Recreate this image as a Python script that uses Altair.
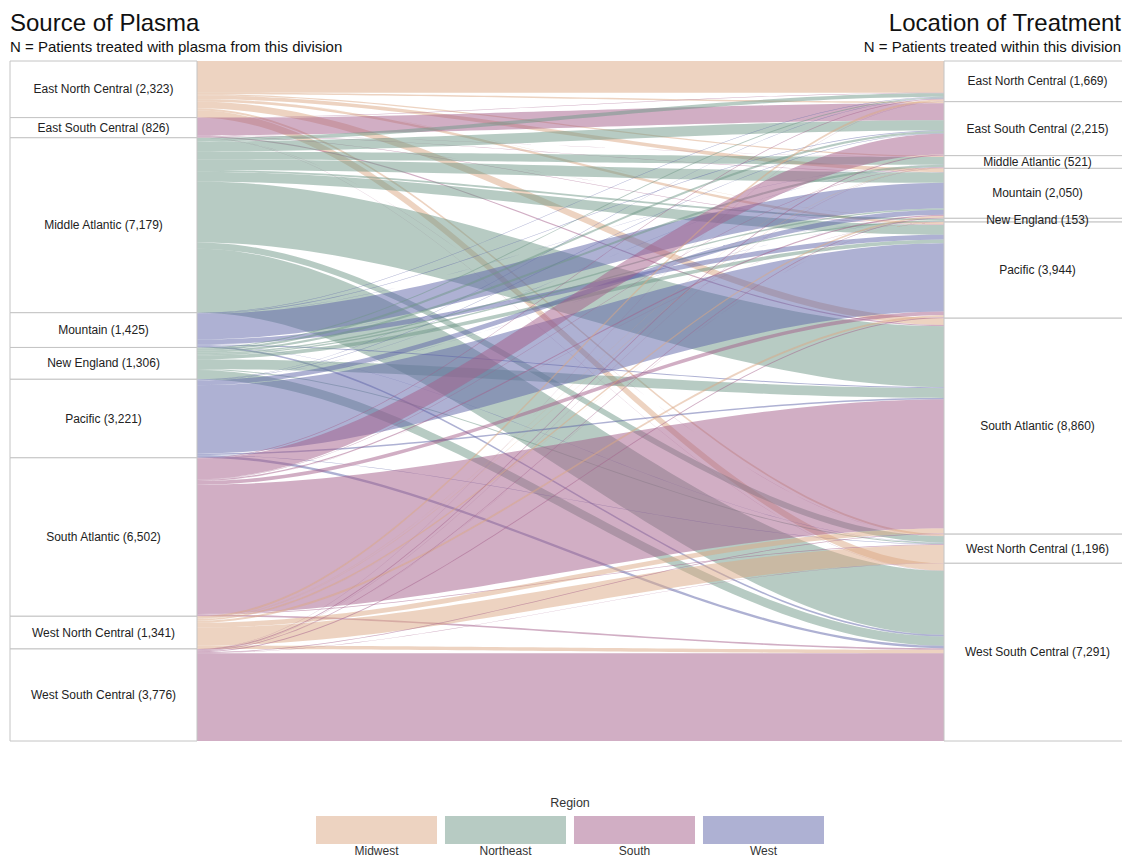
import numpy as np
import pandas as pd
import altair as alt

# ---------------- data ----------------
divisions = ["East North Central", "East South Central", "Middle Atlantic", "Mountain",
             "New England", "Pacific", "South Atlantic", "West North Central", "West South Central"]
division_region = ["Midwest", "South", "Northeast", "West", "Northeast", "West",
                   "South", "Midwest", "South"]
source_totals = [2323, 826, 7179, 1425, 1306, 3221, 6502, 1341, 3776]
treated_totals = [1669, 2215, 521, 2050, 153, 3944, 8860, 1196, 7291]

# patients by source of plasma (rows) and location of treatment (columns, same order)
flow_enc = [1300, 60, 50, 150, 5, 100, 280, 80, 298]
flow_esc = [20, 700, 5, 15, 1, 20, 50, 5, 10]
flow_ma = [150, 420, 320, 430, 75, 400, 2500, 260, 2624]
flow_mtn = [20, 25, 5, 1050, 2, 200, 40, 13, 70]
flow_ne = [40, 90, 90, 60, 55, 150, 400, 40, 381]
flow_pac = [15, 20, 5, 200, 3, 2800, 60, 18, 100]
flow_sa = [30, 850, 20, 50, 5, 150, 5300, 30, 67]
flow_wnc = [84, 10, 16, 65, 4, 84, 200, 737, 141]
flow_wsc = [10, 40, 10, 30, 3, 40, 30, 13, 3600]

regions = ["Midwest", "Northeast", "South", "West"]
region_colors = ["#DBA783", "#6F9787", "#A35D89", "#5D63A7"]

# ---------------- layout ----------------
FONT = "Liberation Sans"
FULL = 1121               # full drawing width in px (right column runs past the page edge)
W, H = 1112, 680          # visible plot area
BOX = 187 / FULL          # share of the full width taken by each column of boxes
flows = np.array([flow_enc, flow_esc, flow_ma, flow_mtn, flow_ne,
                  flow_pac, flow_sa, flow_wnc, flow_wsc], dtype=float)
grand_total = float(sum(source_totals))

# boxes
rows = []
cum = 0
for name, n in zip(divisions, source_totals):
    rows.append(dict(x0=0.0, x1=BOX, y0=cum, y1=cum + n, label=f"{name} ({n:,})"))
    cum += n
cum = 0
for name, n in zip(divisions, treated_totals):
    rows.append(dict(x0=1 - BOX, x1=1.0, y0=cum, y1=cum + n, label=f"{name} ({n:,})"))
    cum += n
box_df = pd.DataFrame(rows)
box_df["xm"] = (box_df.x0 + box_df.x1) / 2
box_df["ym"] = (box_df.y0 + box_df.y1) / 2

# ribbons
k = len(divisions)
src_start = np.concatenate([[0], np.cumsum(source_totals)[:-1]])
dst_start = np.concatenate([[0], np.cumsum(treated_totals)[:-1]])
left_top = np.zeros((k, k))
right_top = np.zeros((k, k))
for i in range(k):
    acc = src_start[i]
    for j in range(k):
        left_top[i, j] = acc
        acc += flows[i, j]
for j in range(k):
    acc = dst_start[j]
    for i in range(k):
        right_top[i, j] = acc
        acc += flows[i, j]

t = np.linspace(0, 1, 61)
s = t * t * (3 - 2 * t)
xs = BOX + (1 - 2 * BOX) * t
parts = []
for i in range(k):
    for j in range(k):
        v = flows[i, j]
        if v <= 0:
            continue
        top = left_top[i, j] + (right_top[i, j] - left_top[i, j]) * s
        parts.append(pd.DataFrame({
            "flow": f"{i:02d}-{j:02d}",
            "region": division_region[i],
            "x": xs,
            "y_top": top,
            "y_bot": top + v,
        }))
ribbon_df = pd.concat(parts, ignore_index=True)

# ---------------- chart ----------------
x_scale = alt.Scale(domain=[0, W / FULL], nice=False, zero=False)
y_scale = alt.Scale(domain=[0, grand_total], reverse=True, nice=False, zero=False)
color_scale = alt.Scale(domain=regions, range=region_colors)

ribbons = alt.Chart(ribbon_df).mark_area(opacity=0.5).encode(
    x=alt.X("x:Q", scale=x_scale, axis=None),
    y=alt.Y("y_top:Q", scale=y_scale, axis=None, stack=None),
    y2="y_bot:Q",
    color=alt.Color("region:N", scale=color_scale, legend=None),
    detail="flow:N",
)

boxes = alt.Chart(box_df).mark_rect(fill="white", stroke="#c4c4c4", strokeWidth=1).encode(
    x=alt.X("x0:Q", scale=x_scale, axis=None),
    x2="x1:Q",
    y=alt.Y("y0:Q", scale=y_scale, axis=None),
    y2="y1:Q",
)

box_labels = alt.Chart(box_df).mark_text(font=FONT, fontSize=12, color="#222222").encode(
    x=alt.X("xm:Q", scale=x_scale, axis=None),
    y=alt.Y("ym:Q", scale=y_scale, axis=None),
    text="label:N",
)


def title_text(txt, size, align, xpix, ypix):
    return alt.Chart(pd.DataFrame({"t": [txt]})).mark_text(
        font=FONT, fontSize=size, align=align, baseline="alphabetic", color="#111111"
    ).encode(x=alt.value(xpix), y=alt.value(ypix), text="t:N")


titles = [
    title_text("Source of Plasma", 24, "left", 0, -30),
    title_text("N = Patients treated with plasma from this division", 15, "left", 0, -9),
    title_text("Location of Treatment", 24, "right", W - 1, -30),
    title_text("N = Patients treated within this division", 15, "right", W - 1, -9),
]

main = alt.layer(ribbons, boxes, box_labels, *titles)

legend_df = pd.DataFrame({"region": regions})
lx = alt.Scale(domain=regions, range=[306, 814], paddingInner=0.062, paddingOuter=0)
legend_rects = alt.Chart(legend_df).mark_rect(opacity=0.5).encode(
    x=alt.X("region:N", scale=lx, axis=None),
    y=alt.value(755),
    y2=alt.value(783),
    color=alt.Color("region:N", scale=color_scale, legend=None),
)
legend_labels = alt.Chart(legend_df).mark_text(
    font=FONT, fontSize=12, color="#333333", baseline="middle"
).encode(
    x=alt.X("region:N", scale=lx, axis=None),
    y=alt.value(790),
    text="region:N",
)
legend_title = alt.Chart(pd.DataFrame({"t": ["Region"]})).mark_text(
    font=FONT, fontSize=12.5, color="#333333", baseline="middle"
).encode(x=alt.value(560), y=alt.value(742), text="t:N")

legend = alt.layer(legend_rects, legend_labels, legend_title)

chart = alt.layer(main, legend).resolve_scale(x="independent").properties(
    width=W,
    height=H,
    padding={"left": 2, "top": 53, "right": 0, "bottom": 118},
    autosize="none",
).configure_view(stroke=None)

chart.save("out.html", embed_options={"renderer": "svg", "actions": False})
